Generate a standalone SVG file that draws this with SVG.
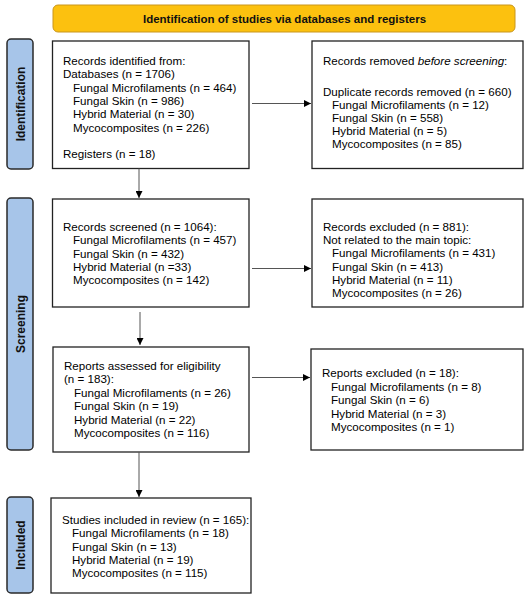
<svg xmlns="http://www.w3.org/2000/svg" width="530" height="600" viewBox="0 0 530 600">
<defs>
<marker id="ah" viewBox="0 0 10 10" refX="10" refY="5" markerWidth="7" markerHeight="7" markerUnits="userSpaceOnUse" orient="auto">
<path d="M0,0 L10,5 L0,10 z" fill="#000"/>
</marker>
<style>
.box{fill:#fff;stroke:#222;stroke-width:1.3}
.lab{fill:#a7c5e9;stroke:#2a2a2a;stroke-width:1.5}
.t{font-family:"Liberation Sans",Arial,sans-serif;font-size:11.6px;fill:#000}
.lt{font-family:"Liberation Sans",Arial,sans-serif;font-size:12px;font-weight:bold;fill:#111}
.ht{font-family:"Liberation Sans",Arial,sans-serif;font-size:11.5px;font-weight:bold;fill:#111}
.c{stroke:#555;stroke-width:1;fill:none}
</style>
</defs>
<rect width="530" height="600" fill="#fff"/>
<g id="header">
<rect x="53" y="5" width="462" height="27" rx="5" fill="#fcc10f" stroke="#c9961c" stroke-width="1"/>
<text class="ht" x="284.5" y="22.5" text-anchor="middle">Identification of studies via databases and registers</text>
</g>
<g id="label-identification">
<rect class="lab" x="7" y="39" width="26" height="130" rx="4"/>
<text class="lt" transform="translate(24.5,104) rotate(-90)" text-anchor="middle">Identification</text>
</g>
<g id="label-screening">
<rect class="lab" x="7" y="198" width="26" height="252" rx="4"/>
<text class="lt" transform="translate(24.5,324) rotate(-90)" text-anchor="middle">Screening</text>
</g>
<g id="label-included">
<rect class="lab" x="7" y="497" width="26" height="96" rx="4"/>
<text class="lt" transform="translate(24.5,545) rotate(-90)" text-anchor="middle">Included</text>
</g>
<g id="box-identified">
<rect class="box" x="52.5" y="41" width="196.5" height="127.5"/>
<text class="t" y="65"><tspan x="63">Records identified from:</tspan><tspan x="63" dy="13.3">Databases (n = 1706)</tspan><tspan x="73" dy="13.3">Fungal Microfilaments (n = 464)</tspan><tspan x="73" dy="13.3">Fungal Skin (n = 986)</tspan><tspan x="73" dy="13.3">Hybrid Material (n = 30)</tspan><tspan x="73" dy="13.3">Mycocomposites (n = 226)</tspan><tspan x="63" dy="26.6">Registers (n = 18)</tspan></text>
</g>
<g id="box-removed">
<rect class="box" x="312" y="41" width="211" height="127.5"/>
<text class="t" y="65"><tspan x="323">Records removed </tspan><tspan font-style="italic">before screening</tspan><tspan>:</tspan><tspan x="323" y="96">Duplicate records removed (n = 660)</tspan><tspan x="332" dy="12.9">Fungal Microfilaments (n = 12)</tspan><tspan x="332" dy="12.9">Fungal Skin (n = 558)</tspan><tspan x="332" dy="12.9">Hybrid Material (n = 5)</tspan><tspan x="332" dy="12.9">Mycocomposites (n = 85)</tspan></text>
</g>
<g id="box-screened">
<rect class="box" x="52.5" y="199" width="196.5" height="108"/>
<text class="t" y="231"><tspan x="63">Records screened (n = 1064):</tspan><tspan x="73" dy="13.3">Fungal Microfilaments (n = 457)</tspan><tspan x="73" dy="13.3">Fungal Skin (n = 432)</tspan><tspan x="73" dy="13.3">Hybrid Material (n =33)</tspan><tspan x="73" dy="13.3">Mycocomposites (n = 142)</tspan></text>
</g>
<g id="box-excluded">
<rect class="box" x="312" y="199" width="211" height="108"/>
<text class="t" y="231"><tspan x="323">Records excluded (n = 881):</tspan><tspan x="323" dy="13.2">Not related to the main topic:</tspan><tspan x="332" dy="13.2">Fungal Microfilaments (n = 431)</tspan><tspan x="332" dy="13.2">Fungal Skin (n = 413)</tspan><tspan x="332" dy="13.2">Hybrid Material (n = 11)</tspan><tspan x="332" dy="13.2">Mycocomposites (n = 26)</tspan></text>
</g>
<g id="box-assessed">
<rect class="box" x="53" y="347" width="196" height="105"/>
<text class="t" y="370"><tspan x="64">Reports assessed for eligibility</tspan><tspan x="64" dy="13.4">(n = 183):</tspan><tspan x="74" dy="13.4">Fungal Microfilaments (n = 26)</tspan><tspan x="74" dy="13.4">Fungal Skin (n = 19)</tspan><tspan x="74" dy="13.4">Hybrid Material (n = 22)</tspan><tspan x="74" dy="13.4">Mycocomposites (n = 116)</tspan></text>
</g>
<g id="box-reports-excluded">
<rect class="box" x="311" y="349" width="212" height="101"/>
<text class="t" y="377"><tspan x="322">Reports excluded (n = 18):</tspan><tspan x="331" dy="13.5">Fungal Microfilaments (n = 8)</tspan><tspan x="331" dy="13.5">Fungal Skin (n = 6)</tspan><tspan x="331" dy="13.5">Hybrid Material (n = 3)</tspan><tspan x="331" dy="13.5">Mycocomposites (n = 1)</tspan></text>
</g>
<g id="box-included">
<rect class="box" x="51" y="498" width="200" height="95"/>
<text class="t" y="524"><tspan x="62">Studies included in review (n = 165):</tspan><tspan x="72" dy="13.3">Fungal Microfilaments (n = 18)</tspan><tspan x="72" dy="13.3">Fungal Skin (n = 13)</tspan><tspan x="72" dy="13.3">Hybrid Material (n = 19)</tspan><tspan x="72" dy="13.3">Mycocomposites (n = 115)</tspan></text>
</g>
<g id="connectors">
<line class="c" x1="252" y1="103.5" x2="311" y2="103.5" marker-end="url(#ah)"/>
<line class="c" x1="139" y1="168.5" x2="139" y2="198" marker-end="url(#ah)"/>
<line class="c" x1="252" y1="268.5" x2="311" y2="268.5" marker-end="url(#ah)"/>
<line class="c" x1="140" y1="312" x2="140" y2="345" marker-end="url(#ah)"/>
<line class="c" x1="252" y1="377.5" x2="310" y2="377.5" marker-end="url(#ah)"/>
<line class="c" x1="139" y1="452" x2="139" y2="497" marker-end="url(#ah)"/>
</g>
</svg>
